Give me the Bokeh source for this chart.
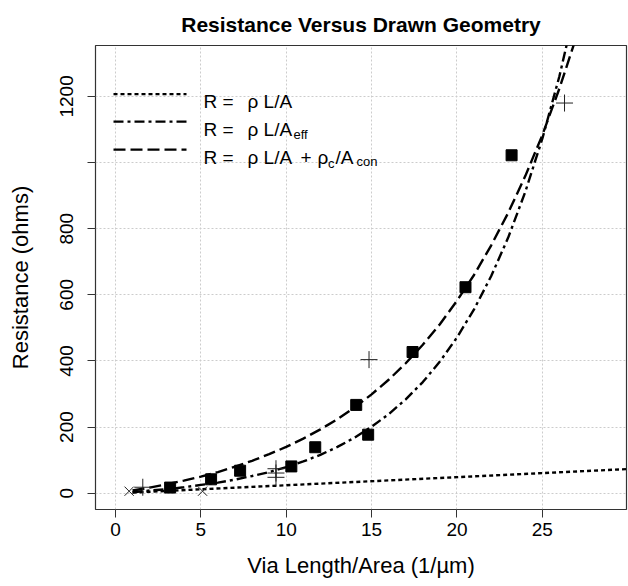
from bokeh.plotting import figure
from bokeh.models import Range1d, FixedTicker
from bokeh.core.properties import value
from bokeh.embed import file_html
from bokeh.resources import INLINE

FONT = "Liberation Sans"

# ---------------- data ----------------
x_ticks = [0, 5, 10, 15, 20, 25]
y_ticks = [0, 200, 400, 600, 800, 1000, 1200]
y_tick_labels = {0: "0", 200: "200", 400: "400", 600: "600", 800: "800", 1000: "", 1200: "1200"}

# measured vias (filled squares)
sq_x = [3.2, 5.6, 7.3, 10.3, 11.7, 14.1, 14.8, 17.4, 20.5, 23.2]
sq_y = [17, 42, 68, 81, 139, 267, 177, 427, 623, 1022]
# plus markers
plus_x = [1.6, 9.4, 9.4, 9.4, 14.85, 26.3]
plus_y = [18, 48, 61, 74, 404, 1180]
# x markers
xm_x = [0.8, 5.1]
xm_y = [6, 6]

# R = rho L/A (dotted)
dot_x = [1, 30]
dot_y = [2, 73]
# R = rho L/A + rho_c/A_con (long dash)
ld_x = [1, 2, 3, 4, 5, 6, 7, 8, 9, 10, 11, 12, 13, 14, 15, 16, 17, 18, 19, 20,
        21, 22, 23, 24, 25, 26, 27, 28]
ld_y = [8, 17, 27, 38, 50, 64, 80, 98, 118, 140, 165, 193, 224, 259, 299, 343,
        393, 449, 511, 582, 660, 749, 848, 959, 1083, 1224, 1381, 1557]
# R = rho L/A_eff (dash-dot)
dd_x = [1, 2, 3, 4, 5, 6, 7, 8, 9, 10, 11, 12, 13, 14, 15, 16, 17, 18, 19, 20,
        21, 22, 23, 24, 25, 26, 27]
dd_y = [3, 8, 12, 18, 25, 32, 41, 52, 64, 79, 96, 116, 140, 168, 201, 239, 284,
        336, 398, 471, 556, 656, 773, 911, 1072, 1261, 1484]

# ---------------- figure ----------------
X0, X1 = -1.17, 29.93
Y0, Y1 = -49.3, 1354.0
FL, FR, FT, FB = 95, 626, 44, 509   # frame in pixels


def px2x(px):
    return X0 + (px - FL) * (X1 - X0) / (FR - FL)


def py2y(py):
    return Y0 + (FB - py) * (Y1 - Y0) / (FB - FT)


p = figure(width=628, height=586, x_range=Range1d(X0, X1), y_range=Range1d(Y0, Y1),
           output_backend="svg", toolbar_location=None,
           min_border_left=FL, min_border_right=628 - FR, min_border_top=FT,
           min_border_bottom=586 - FB)
p.background_fill_color = "white"
p.border_fill_color = "white"
p.outline_line_color = "#333333"
p.outline_line_width = 1.2

p.title.text = "Resistance Versus Drawn Geometry"
p.title.align = "center"
p.title.text_font = FONT
p.title.text_font_size = "21px"
p.title.text_font_style = "bold"
p.title.text_color = "black"
p.title.standoff = 20

for ax in (p.xaxis[0], p.yaxis[0]):
    ax.axis_line_color = None
    ax.major_tick_line_color = "#333333"
    ax.major_tick_out = 8
    ax.major_tick_in = 0
    ax.minor_tick_line_color = None
    ax.major_label_text_font = FONT
    ax.major_label_text_font_size = "19px"
    ax.major_label_text_color = "black"
    ax.axis_label_text_font = FONT
    ax.axis_label_text_font_size = "22px"
    ax.axis_label_text_font_style = "normal"
    ax.axis_label_text_color = "black"

p.xaxis.ticker = FixedTicker(ticks=x_ticks)
p.yaxis.ticker = FixedTicker(ticks=y_ticks)
p.yaxis.major_label_overrides = y_tick_labels
p.yaxis.major_label_orientation = "vertical"
p.xaxis.major_label_standoff = 5
p.yaxis.major_label_standoff = 14
p.xaxis.axis_label = "Via Length/Area (1/µm)"
p.yaxis.axis_label = "Resistance (ohms)"
p.xaxis.axis_label_standoff = 14
p.yaxis.axis_label_standoff = 25

for g in (p.xgrid[0], p.ygrid[0]):
    g.grid_line_color = "#cccccc"
    g.grid_line_dash = "2 2"
    g.grid_line_width = 1

LW = 2.4
DOT = "4 3"
DASHDOT = "10 4 3 4"
LONG = "12 5"

p.line(dot_x, dot_y, line_color="black", line_width=LW, line_dash=DOT)
p.line(dd_x, dd_y, line_color="black", line_width=LW, line_dash=DASHDOT)
p.line(ld_x, ld_y, line_color="black", line_width=LW, line_dash=LONG)

p.scatter(sq_x, sq_y, marker="square", size=11, fill_color="black", line_color="black")
p.scatter(plus_x, plus_y, marker="cross", size=17, line_color="#222222", line_width=1)
p.scatter(xm_x, xm_y, marker="x", size=13, line_color="#222222", line_width=1)

# ---------------- legend (drawn by hand for subscripts) ----------------
rows = [92.7, 120.3, 148.3]
dashes = [DOT, DASHDOT, LONG]
for ry, dsh in zip(rows, dashes):
    p.line([px2x(113), px2x(186)], [py2y(ry), py2y(ry)], line_color="black",
           line_width=LW, line_dash=dsh)

main_txt = ["R =", "ρ L/A", "R =", "ρ L/A", "R =", "ρ L/A", "+", "ρ", "/A"]
main_px = [203, 247, 203, 247, 203, 247, 300, 317, 335]
main_py = [100, 100, 128, 128, 156.5, 156.5, 156.5, 156.5, 156.5]
p.text(x=[px2x(v) for v in main_px], y=[py2y(v) for v in main_py], text=main_txt,
       text_font=value(FONT), text_font_size="19px", text_color="black",
       text_align="left", text_baseline="alphabetic")

sub_txt = ["eff", "c", "con"]
sub_px = [293, 327.5, 356]
sub_py = [133.5, 162, 160.5]
p.text(x=[px2x(v) for v in sub_px], y=[py2y(v) for v in sub_py], text=sub_txt,
       text_font=value(FONT), text_font_size="13px", text_color="black",
       text_align="left", text_baseline="alphabetic")

open("out.html", "w").write(file_html(p, INLINE))
